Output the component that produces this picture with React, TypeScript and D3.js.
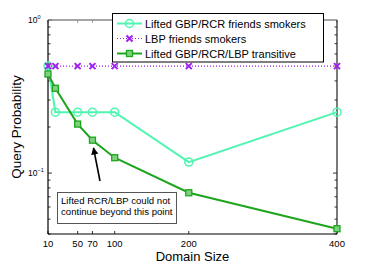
import React, { useRef, useEffect } from 'react';
import * as d3 from 'd3';

const domainSizes = [10, 20, 50, 70, 100, 200, 400];
const xTicks = [10, 50, 70, 100, 200, 400];
const yTickLabels = [
  { value: 1, exp: '0' },
  { value: 0.1, exp: '\u22121' },
];
const liftedFriends = [0.5, 0.25, 0.25, 0.25, 0.25, 0.118, 0.25];
const lbpFriends = [0.5, 0.5, 0.5, 0.5, 0.5, 0.5, 0.5];
const liftedTransitive = [0.444, 0.358, 0.209, 0.164, 0.126, 0.0744, 0.0433];
const seriesNames = [
  'Lifted GBP/RCR friends smokers',
  'LBP friends smokers',
  'Lifted GBP/RCR/LBP transitive',
];
const noteLines = ['Lifted RCR/LBP could not', 'continue beyond this point'];

const App: React.FC = () => {
  const ref = useRef<SVGSVGElement>(null);

  useEffect(() => {
    if (!ref.current) return;
    document.body.style.margin = '0';
    const svg = d3.select(ref.current);
    svg.selectAll('*').remove();

    const left = 48, right = 337, top = 20, bottom = 234;
    const x = d3.scaleLinear().domain([10, 400]).range([left, right]);
    const y = d3.scaleLog().domain([0.04, 1]).range([bottom, top]);

    const font = 'Liberation Sans, Arial, sans-serif';

    // minor log ticks
    const yMinor: number[] = [];
    [0.01, 0.1].forEach(dec => {
      for (let k = 1; k <= 9; k++) {
        const v = dec * k;
        if (v >= 0.04 && v <= 1) yMinor.push(v);
      }
    });
    const ticks = svg.append('g').attr('stroke', '#000').attr('stroke-width', 0.8);
    yMinor.forEach(v => {
      const major = Math.abs(Math.log10(v) - Math.round(Math.log10(v))) < 1e-6;
      const len = major ? 4 : 2.5;
      ticks.append('line').attr('x1', left).attr('x2', left + len).attr('y1', y(v)).attr('y2', y(v));
      ticks.append('line').attr('x1', right).attr('x2', right - len).attr('y1', y(v)).attr('y2', y(v));
    });
    ticks.append('line').attr('x1', left).attr('x2', left + 4).attr('y1', y(1)).attr('y2', y(1));
    xTicks.forEach(v => {
      ticks.append('line').attr('x1', x(v)).attr('x2', x(v)).attr('y1', bottom).attr('y2', bottom - 3);
      ticks.append('line').attr('x1', x(v)).attr('x2', x(v)).attr('y1', top).attr('y2', top + 3).attr('stroke', '#888');
    });

    // frame
    svg.append('line').attr('x1', left).attr('x2', right).attr('y1', top).attr('y2', top)
      .attr('stroke', '#888').attr('stroke-width', 1.5);
    svg.append('line').attr('x1', left).attr('x2', left).attr('y1', top).attr('y2', bottom)
      .attr('stroke', '#000').attr('stroke-width', 1.2);
    svg.append('line').attr('x1', left).attr('x2', right).attr('y1', bottom).attr('y2', bottom)
      .attr('stroke', '#000').attr('stroke-width', 1.2);
    svg.append('line').attr('x1', right).attr('x2', right).attr('y1', top).attr('y2', bottom)
      .attr('stroke', '#222').attr('stroke-width', 1.2);

    // tick labels
    xTicks.forEach(v => {
      svg.append('text').attr('x', x(v)).attr('y', bottom + 13).attr('text-anchor', 'middle')
        .attr('font-family', font).attr('font-size', 9.5).text(v);
    });
    yTickLabels.forEach(({ value, exp }) => {
      const t = svg.append('text').attr('x', 28).attr('y', y(value) + 3)
        .attr('font-family', font).attr('font-size', 8.5);
      t.append('tspan').text('10');
      t.append('tspan').attr('dy', -4).attr('font-size', 5.5).text(exp);
    });

    // axis titles
    svg.append('text').attr('x', (left + right) / 2).attr('y', 261).attr('text-anchor', 'middle')
      .attr('font-family', font).attr('font-size', 13).text('Domain Size');
    svg.append('text').attr('transform', `translate(20.5,${(top + bottom) / 2}) rotate(-90)`)
      .attr('text-anchor', 'middle').attr('font-family', font).attr('font-size', 13.5)
      .text('Query Probability');

    const line = d3.line<[number, number]>().x(d => x(d[0])).y(d => y(d[1]));
    const cyan = '#4ff5b0', purple = '#a020f0', green = '#1ea51e';

    const drawCircle = (g: any, cx: number, cy: number) =>
      g.append('circle').attr('cx', cx).attr('cy', cy).attr('r', 4)
        .attr('fill', 'none').attr('stroke', cyan).attr('stroke-width', 1.5);
    const drawCross = (g: any, cx: number, cy: number) => {
      const s = 3;
      g.append('path').attr('d', `M${cx - s},${cy - s}L${cx + s},${cy + s}M${cx - s},${cy + s}L${cx + s},${cy - s}`)
        .attr('stroke', purple).attr('stroke-width', 2);
    };
    const drawSquare = (g: any, cx: number, cy: number) =>
      g.append('rect').attr('x', cx - 3).attr('y', cy - 3).attr('width', 6).attr('height', 6)
        .attr('fill', '#7fd07f').attr('stroke', green).attr('stroke-width', 1.3);

    // series
    const sCyan = svg.append('g');
    sCyan.append('path').attr('d', line(domainSizes.map((d, i) => [d, liftedFriends[i]]))!)
      .attr('fill', 'none').attr('stroke', cyan).attr('stroke-width', 2);
    domainSizes.forEach((d, i) => drawCircle(sCyan, x(d), y(liftedFriends[i])));

    const sPurple = svg.append('g');
    sPurple.append('path').attr('d', line(domainSizes.map((d, i) => [d, lbpFriends[i]]))!)
      .attr('fill', 'none').attr('stroke', purple).attr('stroke-width', 1.2).attr('stroke-dasharray', '1,2');
    domainSizes.forEach((d, i) => drawCross(sPurple, x(d), y(lbpFriends[i])));

    const sGreen = svg.append('g');
    sGreen.append('path').attr('d', line(domainSizes.map((d, i) => [d, liftedTransitive[i]]))!)
      .attr('fill', 'none').attr('stroke', green).attr('stroke-width', 2);
    domainSizes.forEach((d, i) => drawSquare(sGreen, x(d), y(liftedTransitive[i])));

    // legend
    const lg = svg.append('g');
    lg.append('rect').attr('x', 112.5).attr('y', 13.5).attr('width', 211).attr('height', 48.5)
      .attr('fill', '#fff').attr('stroke', '#000').attr('stroke-width', 1);
    const rows = [23.5, 38.5, 53.5];
    rows.forEach((ry, i) => {
      const col = [cyan, purple, green][i];
      const l = lg.append('line').attr('x1', 117).attr('x2', 142).attr('y1', ry).attr('y2', ry)
        .attr('stroke', col).attr('stroke-width', i === 1 ? 1.2 : 2);
      if (i === 1) l.attr('stroke-dasharray', '1,2');
      if (i === 0) drawCircle(lg, 129.5, ry);
      if (i === 1) drawCross(lg, 129.5, ry);
      if (i === 2) drawSquare(lg, 129.5, ry);
      lg.append('text').attr('x', 145).attr('y', ry + 4).attr('font-family', font).attr('font-size', 11)
        .text(seriesNames[i]);
    });

    // annotation
    const defs = svg.append('defs');
    defs.append('marker').attr('id', 'ah').attr('viewBox', '0 0 10 10').attr('refX', 9).attr('refY', 5)
      .attr('markerWidth', 5).attr('markerHeight', 4.5).attr('markerUnits', 'strokeWidth')
      .attr('orient', 'auto')
      .append('path').attr('d', 'M0,0L10,5L0,10z').attr('fill', '#000');
    svg.append('line').attr('x1', 100).attr('y1', 181).attr('x2', 93.5).attr('y2', 148)
      .attr('stroke', '#000').attr('stroke-width', 1.6).attr('marker-end', 'url(#ah)');
    svg.append('rect').attr('x', 57.5).attr('y', 192.5).attr('width', 119).attr('height', 31)
      .attr('fill', '#fff').attr('stroke', '#555').attr('stroke-width', 1);
    noteLines.forEach((t, i) => {
      svg.append('text').attr('x', 61).attr('y', 204 + i * 11).attr('font-family', font)
        .attr('font-size', 9.6).text(t);
    });
  }, []);

  return <svg ref={ref} width={373} height={264} style={{ display: 'block' }} />;
};

export default App;
